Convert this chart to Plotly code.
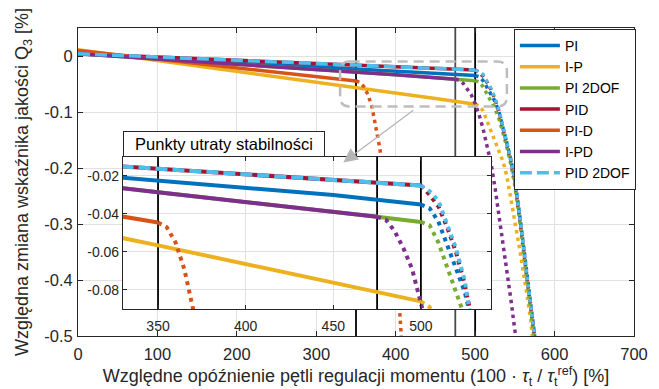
import plotly.graph_objects as go

# ---------------- data ----------------
names = ["PI", "I-P", "PI 2DOF", "PID", "PI-D", "I-PD", "PID 2DOF"]
colors = ["#0072BD", "#EDB120", "#77AC30", "#A2142F", "#D95319", "#7E2F8E", "#4DBEEE"]

# stable (solid) parts
pi_x = [0, 100, 200, 300, 350, 400, 450, 500]
pi_y = [0.004, -0.0035, -0.011, -0.019, -0.0225, -0.026, -0.030, -0.035]
ip_x = [0, 100, 200, 300, 350, 400, 450, 500]
ip_y = [0.011, -0.008, -0.0275, -0.047, -0.0565, -0.0665, -0.076, -0.086]
pi2_x = [0, 100, 200, 300, 350, 400, 450, 475, 500]
pi2_y = [0.004, -0.005, -0.0145, -0.0235, -0.0285, -0.0335, -0.0388, -0.0415, -0.0442]
pid_x = [0, 100, 200, 300, 350, 400, 450, 500]
pid_y = [0.004, -0.002, -0.0075, -0.0133, -0.0162, -0.019, -0.022, -0.025]
pid_d_x = [0, 100, 200, 300, 350]
pid_d_y = [0.010, -0.0055, -0.021, -0.0365, -0.0445]
ipd_x = [0, 100, 200, 300, 350, 400, 450, 475]
ipd_y = [0.004, -0.005, -0.0145, -0.0235, -0.0285, -0.0335, -0.0388, -0.0415]
pid2_x = [0, 100, 200, 300, 350, 400, 450, 500]
pid2_y = [0.004, -0.002, -0.0075, -0.0133, -0.0162, -0.019, -0.022, -0.025]

# unstable (dotted) parts
pi_dx = [500, 505, 510, 515, 520, 525, 530, 535, 540, 545, 550, 555, 560, 565, 570, 575]
pi_dy = [-0.035, -0.037, -0.044, -0.056, -0.069, -0.081, -0.100, -0.126, -0.156, -0.186,
         -0.222, -0.272, -0.332, -0.392, -0.442, -0.500]
ip_dx = [500, 505, 510, 515, 520, 525, 530, 535, 540, 545, 550, 555, 560, 565, 570, 572]
ip_dy = [-0.086, -0.089, -0.098, -0.116, -0.135, -0.150, -0.167, -0.188, -0.215, -0.252,
         -0.296, -0.336, -0.378, -0.424, -0.472, -0.500]
pi2_dx = [500, 505, 510, 515, 520, 525, 530, 535, 540, 545, 550, 555, 560, 565, 570, 574]
pi2_dy = [-0.0442, -0.046, -0.055, -0.068, -0.080, -0.094, -0.112, -0.136, -0.163, -0.194,
          -0.232, -0.282, -0.340, -0.400, -0.452, -0.500]
pid_dx = [500, 505, 510, 515, 520, 525, 530, 535, 540, 545, 550, 555, 560, 565, 570, 575]
pid_dy = [-0.025, -0.030, -0.036, -0.047, -0.060, -0.077, -0.099, -0.128, -0.157, -0.187,
          -0.222, -0.272, -0.332, -0.392, -0.442, -0.500]
pid_d_dx = [350, 355, 360, 365, 370, 375, 380, 385, 390, 395, 400, 405, 407]
pid_d_dy = [-0.0445, -0.047, -0.055, -0.069, -0.090, -0.125, -0.165, -0.215, -0.270, -0.330,
            -0.390, -0.455, -0.500]
ipd_dx = [475, 480, 485, 490, 495, 500, 505, 510, 515, 520, 525, 530, 535, 540, 545, 550, 551]
ipd_dy = [-0.0415, -0.043, -0.049, -0.058, -0.069, -0.085, -0.105, -0.130, -0.160, -0.192,
          -0.235, -0.285, -0.328, -0.380, -0.435, -0.490, -0.500]
pid2_dx = [500, 505, 510, 515, 520, 525, 530, 535, 540, 545, 550, 555, 560, 565, 570, 575]
pid2_dy = [-0.025, -0.028, -0.033, -0.045, -0.058, -0.075, -0.097, -0.126, -0.155, -0.185,
           -0.220, -0.270, -0.330, -0.390, -0.440, -0.500]

# stability-loss markers
vlines = [350, 475, 500]
vline_colors = ["#000000", "#4A4A4A", "#000000"]

# axes
main_xrange = [0, 700]
main_yrange = [-0.5, 0.05]
main_xticks = [0, 100, 200, 300, 400, 500, 600, 700]
main_xticktext = ["0", "100", "200", "300", "400", "500", "600", "700"]
main_yticks = [-0.5, -0.4, -0.3, -0.2, -0.1, 0]
main_yticktext = ["-0.5", "-0.4", "-0.3", "-0.2", "-0.1", "0"]
zoom_xrange = [330, 540]
zoom_yrange = [-0.09, -0.01]
zoom_xticks = [350, 400, 450, 500]
zoom_xticktext = ["350", "400", "450", "500"]
zoom_yticks = [-0.08, -0.06, -0.04, -0.02]
zoom_yticktext = ["-0.08", "-0.06", "-0.04", "-0.02"]

solid = [(pi_x, pi_y), (ip_x, ip_y), (pi2_x, pi2_y), (pid_x, pid_y),
         (pid_d_x, pid_d_y), (ipd_x, ipd_y), (pid2_x, pid2_y)]
dotted = [(pi_dx, pi_dy), (ip_dx, ip_dy), (pi2_dx, pi2_dy), (pid_dx, pid_dy),
          (pid_d_dx, pid_d_dy), (ipd_dx, ipd_dy), (pid2_dx, pid2_dy)]

# ---------------- figure ----------------
FONT = "Arial, 'Liberation Sans', Helvetica, sans-serif"
fig = go.Figure()
AX = "#262626"
GRID = "#E1E1E1"

for xa, ya, yr, lw, dotdash in [("x", "y", main_yrange, 3.5, "3.5px,4px"),
                                 ("x2", "y2", zoom_yrange, 4, "4px,4.5px")]:
    for v, c in zip(vlines, vline_colors):
        fig.add_trace(go.Scatter(x=[v, v], y=yr, mode="lines",
                                 line=dict(color=c if xa == "x" else "#000000", width=1.8),
                                 xaxis=xa, yaxis=ya, showlegend=False, hoverinfo="skip"))
    for i, name in enumerate(names):
        sx, sy = solid[i]
        dx, dy = dotted[i]
        dash = "12px,5px" if name == "PID 2DOF" else "solid"
        fig.add_trace(go.Scatter(x=sx, y=sy, mode="lines", name=name,
                                 line=dict(color=colors[i], width=lw, dash=dash),
                                 xaxis=xa, yaxis=ya, showlegend=(xa == "x"),
                                 legendrank=i + 1))
        fig.add_trace(go.Scatter(x=dx, y=dy, mode="lines",
                                 line=dict(color=colors[i], width=lw, dash=dotdash),
                                 xaxis=xa, yaxis=ya, showlegend=False))

# rounded dashed rectangle marking zoom region
x0, x1 = zoom_xrange
y0, y1 = zoom_yrange
rx, ry = 12, 0.017
path = (f"M{x0+rx},{y1} L{x1-rx},{y1} Q{x1},{y1} {x1},{y1-ry} L{x1},{y0+ry} "
        f"Q{x1},{y0} {x1-rx},{y0} L{x0+rx},{y0} Q{x0},{y0} {x0},{y0+ry} "
        f"L{x0},{y1-ry} Q{x0},{y1} {x0+rx},{y1} Z")
fig.add_shape(type="path", path=path, xref="x", yref="y",
              line=dict(color="#BDBDBD", width=2.5, dash="10px,6px"), layer="above")

fig.add_annotation(x=334, y=-0.19, ax=424, ay=-0.095, xref="x", yref="y",
                   axref="x", ayref="y", text="", showarrow=True, arrowhead=2,
                   arrowsize=2.2, arrowwidth=1.3, arrowcolor="#B5B5B5", standoff=0)

fig.add_annotation(x=0.0809, y=0.5812, xref="paper", yref="paper", xanchor="left",
                   yanchor="bottom", text="Punkty utraty stabilności", showarrow=False,
                   bgcolor="white", bordercolor=AX, borderwidth=1, borderpad=1,
                   width=198, height=22, align="center",
                   font=dict(size=16.5, color="#000000", family=FONT))

axis_common = dict(ticks="inside", tickcolor=AX, showline=True, linecolor=AX, linewidth=1,
                   mirror="ticks", showgrid=True, gridcolor=GRID, gridwidth=1, zeroline=False,
                   automargin=False)

fig.update_layout(
    width=659, height=389,
    margin=dict(l=78, r=25, t=28, b=53, autoexpand=False),
    paper_bgcolor="white", plot_bgcolor="white",
    font=dict(family=FONT, size=16.5, color=AX),
    xaxis=dict(domain=[0, 1], range=main_xrange, tickvals=main_xticks, ticktext=main_xticktext,
               ticklen=5, tickfont=dict(size=16.5), ticklabelstandoff=3,
               title=dict(text="Względne opóźnienie pętli regulacji momentu (100 · <i>τ</i><sub>t</sub> / <i>τ</i><sub>t</sub><sup>ref</sup>) [%]",
                          font=dict(size=18), standoff=10),
               **axis_common),
    yaxis=dict(domain=[0, 1], range=main_yrange, tickvals=main_yticks, ticktext=main_yticktext,
               ticklen=5, tickfont=dict(size=16.5), ticklabelstandoff=1,
               title=dict(text="Względna zmiana wskaźnika jakości Q<sub>3</sub> [%]",
                          font=dict(size=18), standoff=10),
               **axis_common),
    xaxis2=dict(domain=[0.0809, 0.7428], anchor="y2", range=zoom_xrange, tickvals=zoom_xticks,
                ticktext=zoom_xticktext, ticklen=4, tickfont=dict(size=14),
                ticklabelstandoff=4, **axis_common),
    yaxis2=dict(domain=[0.0877, 0.5812], anchor="x2", range=zoom_yrange, tickvals=zoom_yticks,
                ticktext=zoom_yticktext, ticklen=4, tickfont=dict(size=14), **axis_common),
    legend=dict(x=0.784, y=0.997, xanchor="left", yanchor="top", bgcolor="white",
                bordercolor=AX, borderwidth=1, font=dict(size=14, color="#000000"),
                itemwidth=40, tracegroupgap=0),
    showlegend=True,
)

fig.write_html("out.html")
